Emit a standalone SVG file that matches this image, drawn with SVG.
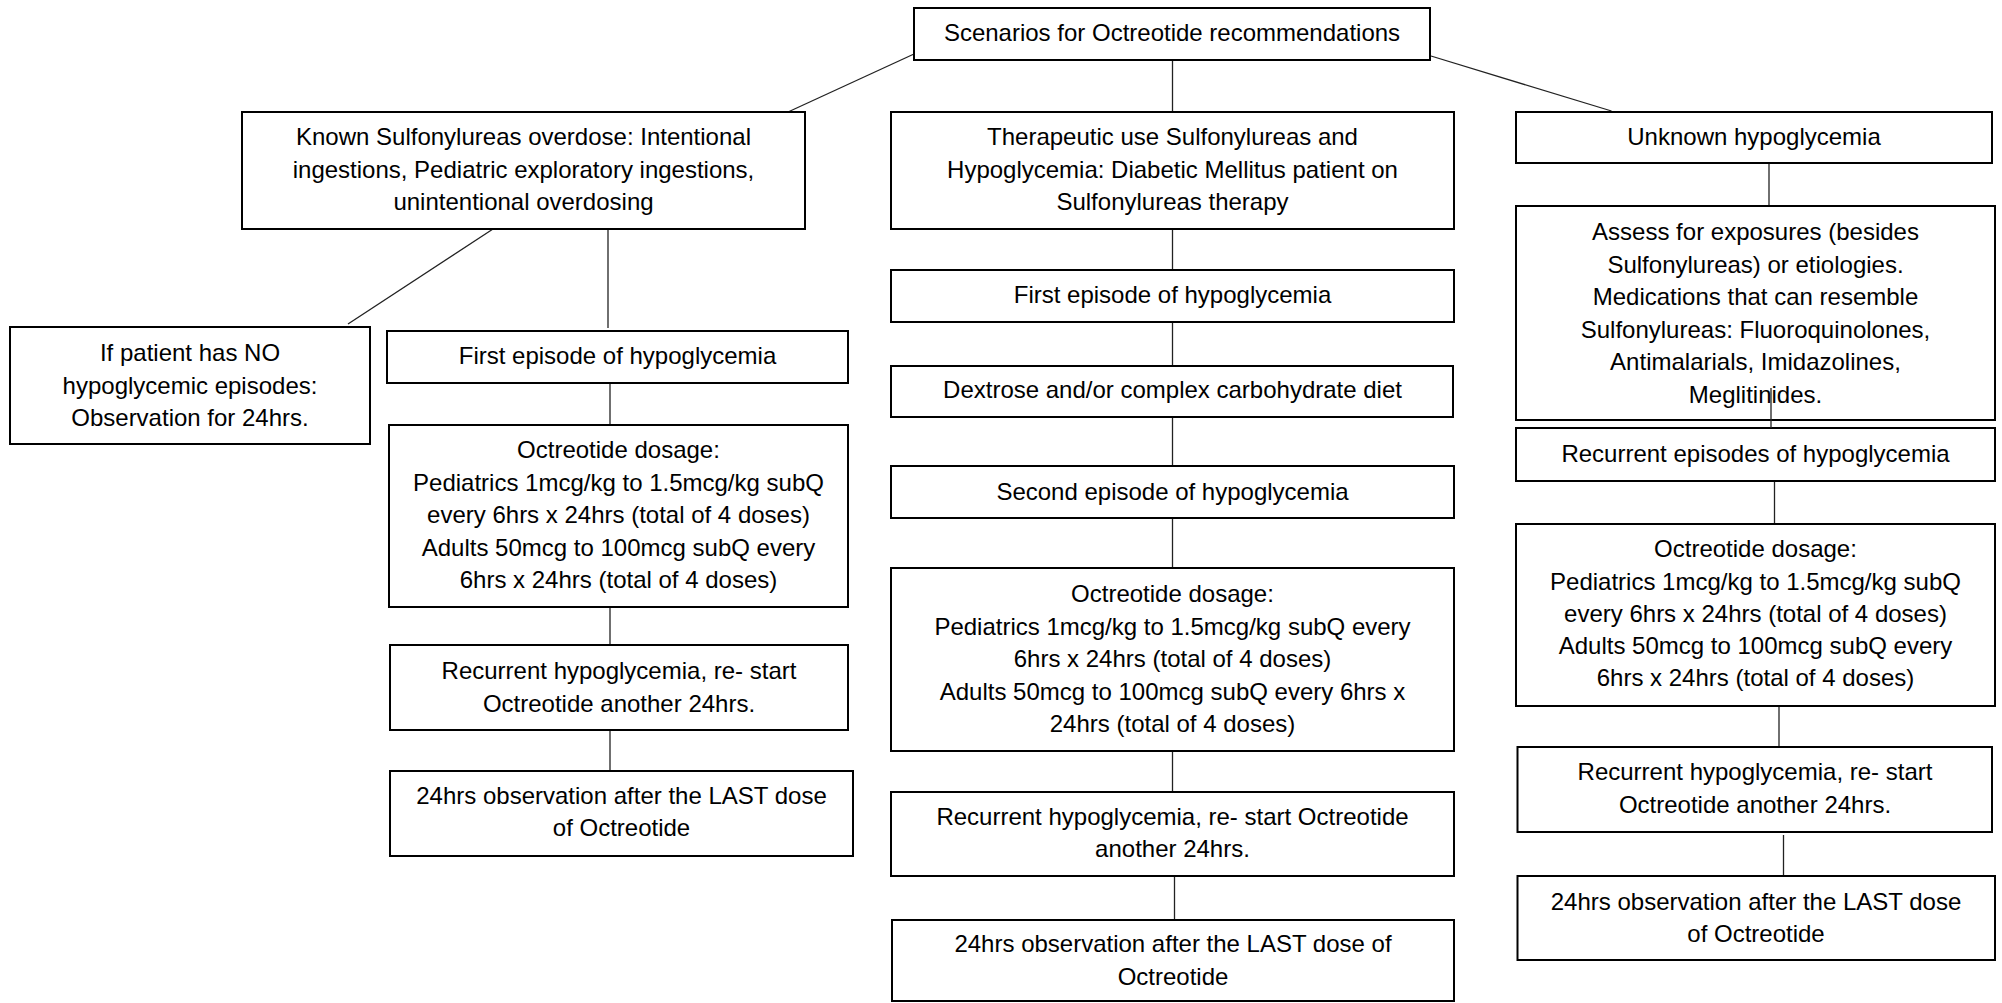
<svg xmlns="http://www.w3.org/2000/svg" width="2002" height="1003" viewBox="0 0 2002 1003">
<style>
.box{fill:#fff;stroke:#000;stroke-width:2}
.t{font-family:"Liberation Sans",Arial,sans-serif;font-size:24px;fill:#000;text-anchor:middle}
.c{stroke:#222;stroke-width:1.3;fill:none}
</style>
<rect width="2002" height="1003" fill="#fff"/>
<g id="connectors">
<line class="c" x1="914" y1="54" x2="788" y2="112"/>
<line class="c" x1="1172.5" y1="60" x2="1172.5" y2="112"/>
<line class="c" x1="1431" y1="56" x2="1611.5" y2="111"/>
<line class="c" x1="493" y1="229" x2="348" y2="324"/>
<line class="c" x1="608" y1="229" x2="608" y2="328"/>
<line class="c" x1="610" y1="383" x2="610" y2="425"/>
<line class="c" x1="610" y1="604" x2="610" y2="645"/>
<line class="c" x1="610" y1="729" x2="610" y2="771"/>
<line class="c" x1="1172.5" y1="229" x2="1172.5" y2="270"/>
<line class="c" x1="1172.5" y1="322" x2="1172.5" y2="366"/>
<line class="c" x1="1172.5" y1="417" x2="1172.5" y2="466"/>
<line class="c" x1="1172.5" y1="518" x2="1172.5" y2="568"/>
<line class="c" x1="1172.5" y1="751" x2="1172.5" y2="792"/>
<line class="c" x1="1174.5" y1="876" x2="1174.5" y2="920"/>
<line class="c" x1="1769" y1="163" x2="1769" y2="206"/>
<line class="c" x1="1779" y1="706" x2="1779" y2="747"/>
<line class="c" x1="1783.5" y1="835" x2="1783.5" y2="876"/>
<line class="c" x1="1774.5" y1="481" x2="1774.5" y2="524"/>
</g>
<g id="top"><rect class="box" x="914" y="8" width="516" height="52"/><text class="t" x="1172" y="41">Scenarios for Octreotide recommendations</text></g>
<g id="known"><rect class="box" x="242" y="112" width="563" height="117"/><text class="t" x="523.5" y="145">Known Sulfonylureas overdose: Intentional</text><text class="t" x="523.5" y="178">ingestions, Pediatric exploratory ingestions,</text><text class="t" x="523.5" y="210">unintentional overdosing</text></g>
<g id="noepisodes"><rect class="box" x="10" y="327" width="360" height="117"/><text class="t" x="190" y="361">If patient has NO</text><text class="t" x="190" y="394">hypoglycemic episodes:</text><text class="t" x="190" y="426">Observation for 24hrs.</text></g>
<g id="k-first"><rect class="box" x="387" y="331" width="461" height="52"/><text class="t" x="617.5" y="364">First episode of hypoglycemia</text></g>
<g id="k-dose"><rect class="box" x="389" y="425" width="459" height="182"/><text class="t" x="618.5" y="458">Octreotide dosage:</text><text class="t" x="618.5" y="491">Pediatrics 1mcg/kg to 1.5mcg/kg subQ</text><text class="t" x="618.5" y="523">every 6hrs x 24hrs (total of 4 doses)</text><text class="t" x="618.5" y="556">Adults 50mcg to 100mcg subQ every</text><text class="t" x="618.5" y="588">6hrs x 24hrs (total of 4 doses)</text></g>
<g id="k-recur"><rect class="box" x="390" y="645" width="458" height="85"/><text class="t" x="619" y="679">Recurrent hypoglycemia, re- start</text><text class="t" x="619" y="712">Octreotide another 24hrs.</text></g>
<g id="k-obs"><rect class="box" x="390" y="771" width="463" height="85"/><text class="t" x="621.5" y="804">24hrs observation after the LAST dose</text><text class="t" x="621.5" y="836">of Octreotide</text></g>
<g id="therapeutic"><rect class="box" x="891" y="112" width="563" height="117"/><text class="t" x="1172.5" y="145">Therapeutic use Sulfonylureas and</text><text class="t" x="1172.5" y="178">Hypoglycemia: Diabetic Mellitus patient on</text><text class="t" x="1172.5" y="210">Sulfonylureas therapy</text></g>
<g id="t-first"><rect class="box" x="891" y="270" width="563" height="52"/><text class="t" x="1172.5" y="303">First episode of hypoglycemia</text></g>
<g id="t-dextrose"><rect class="box" x="891" y="366" width="562" height="51"/><text class="t" x="1172.5" y="398">Dextrose and/or complex carbohydrate diet</text></g>
<g id="t-second"><rect class="box" x="891" y="466" width="563" height="52"/><text class="t" x="1172.5" y="500">Second episode of hypoglycemia</text></g>
<g id="t-dose"><rect class="box" x="891" y="568" width="563" height="183"/><text class="t" x="1172.5" y="602">Octreotide dosage:</text><text class="t" x="1172.5" y="634.5">Pediatrics 1mcg/kg to 1.5mcg/kg subQ every</text><text class="t" x="1172.5" y="667">6hrs x 24hrs (total of 4 doses)</text><text class="t" x="1172.5" y="699.5">Adults 50mcg to 100mcg subQ every 6hrs x</text><text class="t" x="1172.5" y="732">24hrs (total of 4 doses)</text></g>
<g id="t-recur"><rect class="box" x="891" y="792" width="563" height="84"/><text class="t" x="1172.5" y="825">Recurrent hypoglycemia, re- start Octreotide</text><text class="t" x="1172.5" y="857">another 24hrs.</text></g>
<g id="t-obs"><rect class="box" x="892" y="920" width="562" height="81"/><text class="t" x="1173" y="952">24hrs observation after the LAST dose of</text><text class="t" x="1173" y="985">Octreotide</text></g>
<g id="unknown"><rect class="box" x="1516" y="112" width="476" height="51"/><text class="t" x="1754" y="145">Unknown hypoglycemia</text></g>
<g id="u-assess"><rect class="box" x="1516" y="206" width="479" height="214"/><text class="t" x="1755.5" y="240">Assess for exposures (besides</text><text class="t" x="1755.5" y="272.6">Sulfonylureas) or etiologies.</text><text class="t" x="1755.5" y="305">Medications that can resemble</text><text class="t" x="1755.5" y="337.8">Sulfonylureas: Fluoroquinolones,</text><text class="t" x="1755.5" y="370.4">Antimalarials, Imidazolines,</text><text class="t" x="1755.5" y="403">Meglitinides.</text></g>
<g id="u-recurrent"><rect class="box" x="1516" y="428" width="479" height="53"/><text class="t" x="1755.5" y="462">Recurrent episodes of hypoglycemia</text></g>
<g id="u-dose"><rect class="box" x="1516" y="524" width="479" height="182"/><text class="t" x="1755.5" y="557">Octreotide dosage:</text><text class="t" x="1755.5" y="589.5">Pediatrics 1mcg/kg to 1.5mcg/kg subQ</text><text class="t" x="1755.5" y="621.5">every 6hrs x 24hrs (total of 4 doses)</text><text class="t" x="1755.5" y="654">Adults 50mcg to 100mcg subQ every</text><text class="t" x="1755.5" y="686">6hrs x 24hrs (total of 4 doses)</text></g>
<g id="u-recur"><rect class="box" x="1517.5" y="747" width="474.5" height="85"/><text class="t" x="1755" y="780">Recurrent hypoglycemia, re- start</text><text class="t" x="1755" y="813">Octreotide another 24hrs.</text></g>
<g id="u-obs"><rect class="box" x="1517.5" y="876" width="477.5" height="84"/><text class="t" x="1756" y="910">24hrs observation after the LAST dose</text><text class="t" x="1756" y="942">of Octreotide</text></g>
<g id="connector-overlay"><line class="c" x1="1771" y1="388" x2="1771" y2="428"/></g>
</svg>
